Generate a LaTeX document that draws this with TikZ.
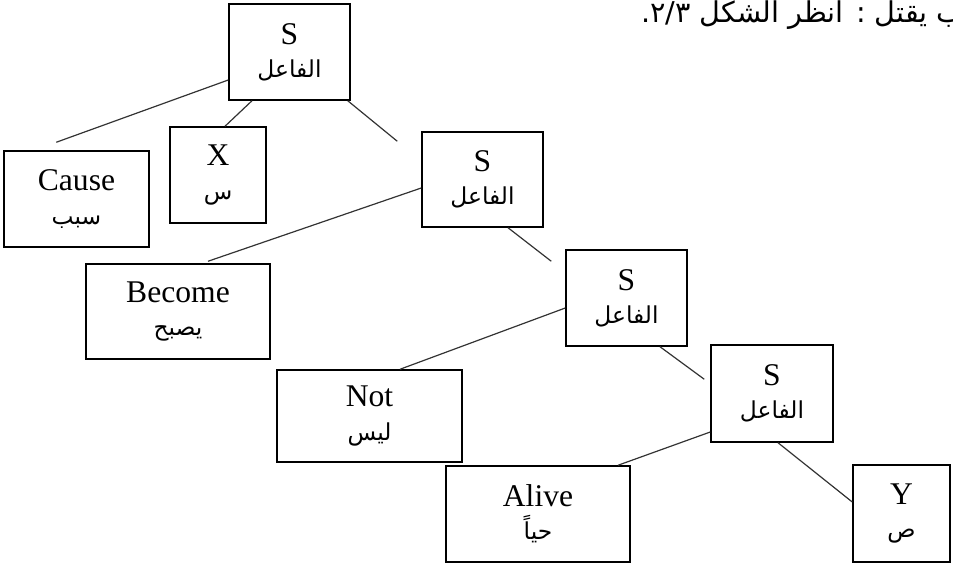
\documentclass[tikz,border=0pt]{standalone}
\usepackage{fontspec}
\setmainfont{Liberation Serif}
\newfontfamily\arabicfont[Script=Arabic]{DejaVu Sans}
\TeXXeTstate=1
\usetikzlibrary{calc}
% Arabic gloss set right to left under each English word
\newcommand\artxt[1]{{\arabicfont\fontsize{17.5}{25}\selectfont\beginR #1\endR}}
\begin{document}
\begin{tikzpicture}[x=0.75pt,y=-0.75pt,
  box/.style={draw=black,line width=1.1pt,inner sep=0pt,align=center,
    font=\fontsize{23.7}{25}\selectfont},
  link/.style={draw=black!80,line width=0.9pt}]
\useasboundingbox (0,0) rectangle (953,566);
\clip (0,0) rectangle (953,566);

% caption line running off the top right edge
\node[anchor=base east,inner sep=0pt] (note) at (964,23)
  {\arabicfont\fontsize{21.5}{24}\selectfont\beginR ب يقتل : انظر الشكل \beginL ٢/٣\endL.\endR};

% tree nodes
\node[box,minimum width=90.75pt,minimum height=72pt]    (S1)    at (289.5,52)  {S\\\artxt{الفاعل}};
\node[box,minimum width=108.75pt,minimum height=72pt]   (Cause) at (76.5,199)  {Cause\\\artxt{سبب}};
\node[box,minimum width=72pt,minimum height=72pt]       (X)     at (218,175)   {X\\\artxt{س}};
\node[box,minimum width=90.75pt,minimum height=71.25pt] (S2)    at (482.5,179.5) {S\\\artxt{الفاعل}};
\node[box,minimum width=138pt,minimum height=71.25pt]   (Become) at (178,311.5) {Become\\\artxt{يصبح}};
\node[box,minimum width=90.75pt,minimum height=72pt]    (S3)    at (626.5,298) {S\\\artxt{الفاعل}};
\node[box,minimum width=138.75pt,minimum height=69pt]   (Not)   at (369.5,416) {Not\\\artxt{ليس}};
\node[box,minimum width=91.5pt,minimum height=72.75pt]  (S4)    at (772,393.5) {S\\\artxt{الفاعل}};
\node[box,minimum width=138pt,minimum height=72pt]      (Alive) at (538,514)   {Alive\\\artxt{حياً}};
\node[box,minimum width=72.75pt,minimum height=72.75pt] (Y)     at (901.5,513.5) {Y\\\artxt{ص}};

% branches
\draw[link] ($(S1.west)+(0,28)$)        -- ($(Cause.north west)+(53,-8)$);
\draw[link] ($(S1.south)+(-37.5,0)$)    -- ($(X.north)+(7,0)$);
\draw[link] ($(S1.south east)+(-3,0)$)  -- ($(S2.north west)+(-24,10)$);
\draw[link] ($(S2.west)+(0,8.5)$)       -- ($(Become.north)+(30,-2)$);
\draw[link] ($(S2.south)+(25.5,0)$)     -- ($(S3.north west)+(-14,12)$);
\draw[link] ($(S3.west)+(0,10)$)        -- ($(Not.north)+(30.5,0)$);
\draw[link] ($(S3.south)+(33.5,0)$)     -- ($(S4.north west)+(-6,35)$);
\draw[link] ($(S4.west)+(0,38.5)$)      -- ($(Alive.north)+(80,0)$);
\draw[link] ($(S4.south)+(6,0)$)        -- ($(Y.west)+(0,-11.5)$);
\end{tikzpicture}
\end{document}
